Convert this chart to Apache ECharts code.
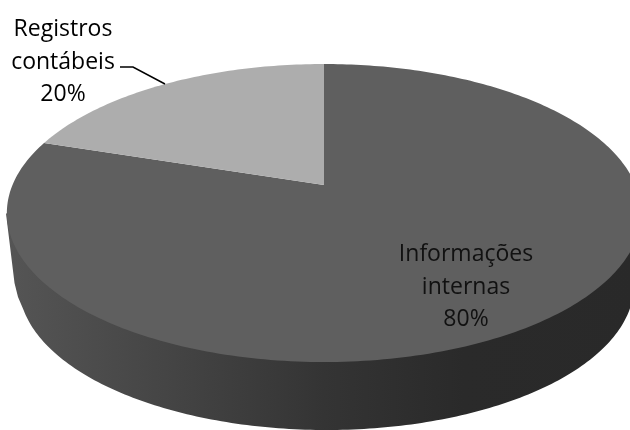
<!DOCTYPE html>
<html>
<head>
<meta charset="utf-8">
<style>html,body{margin:0;padding:0;background:#fff}#c{width:630px;height:430px}</style>
<script src="https://cdn.jsdelivr.net/npm/echarts@6/dist/echarts.min.js"></script>
</head>
<body>
<div id="c"></div>
<script>
const categories = ['Informações\ninternas', 'Registros\ncontábeis'];
const shares = [80, 20];
const sliceColors = ['#5f5f5f', '#adadad'];
const labelCenters = [[466, 287], [63, 62]];

const view = {apexX: 324, apexY: 185, k: 311.5, c: 0.188, a: -108.97};
const rimTop = {x: 324, y: 213.5, rx: 318, ry: 149};
const rimBottom = {x: 326.5, y: 285, rx: 307.5, ry: 145, leftJoins: [[14.5, 283], [18, 297]]};
const total = shares.reduce((s, v) => s + v, 0);

function project(theta) {
  const u = Math.sin(theta), v = Math.cos(theta), w = 1 + view.c * v;
  return [view.apexX + view.k * u / w, (view.a * v + view.apexY) / w];
}

function renderSlice(params, api) {
  const i = params.dataIndex;
  let before = 0;
  for (let j = 0; j < i; j++) before += shares[j];
  const start = before / total * 2 * Math.PI;
  const end = (before + api.value(0)) / total * 2 * Math.PI;
  const pts = [[view.apexX, view.apexY]];
  const n = Math.ceil((end - start) * 180 / Math.PI);
  for (let s = 0; s <= n; s++) pts.push(project(start + (end - start) * s / n));
  const children = [];
  if (i === 0) {
    const side = rimBottom.leftJoins.slice();
    for (let d = 170; d >= 0; d--) {
      const p = d * Math.PI / 180;
      side.push([rimBottom.x + rimBottom.rx * Math.cos(p), rimBottom.y + rimBottom.ry * Math.sin(p)]);
    }
    side.push([rimTop.x + rimTop.rx, rimTop.y], [rimTop.x - rimTop.rx, rimTop.y]);
    children.push({
      type: 'polygon', shape: {points: side},
      style: {fill: new echarts.graphic.LinearGradient(0, 0, 1, 0, [
        {offset: 0, color: '#555555'},
        {offset: 0.25, color: '#454545'},
        {offset: 0.5, color: '#343434'},
        {offset: 0.72, color: '#2a2a2a'},
        {offset: 1, color: '#292929'}
      ])}
    });
  }
  children.push({type: 'polygon', shape: {points: pts}, style: {fill: sliceColors[i]}});
  return {type: 'group', children};
}

function renderLabel(params, api) {
  const i = params.dataIndex;
  const children = [{
    type: 'text', x: labelCenters[i][0], y: labelCenters[i][1],
    style: {
      text: categories[i] + '\n' + api.value(0) + '%',
      font: '23px "Open Sans"', lineHeight: 32.5, align: 'center', verticalAlign: 'middle',
      fill: i === 0 ? '#111111' : '#000000'
    }
  }];
  if (i === 1) {
    children.push({
      type: 'polyline', shape: {points: [[120, 67], [133, 67], [165, 84]]},
      style: {stroke: '#000', lineWidth: 1.5, fill: null}
    });
  }
  return {type: 'group', children};
}

const chart = echarts.init(document.getElementById('c'), null, {renderer: 'canvas'});
chart.setOption({
  animation: false,
  backgroundColor: '#ffffff',
  tooltip: {show: false},
  series: [
    {type: 'custom', coordinateSystem: 'none', silent: true, renderItem: renderSlice, data: shares, z: 1},
    {type: 'custom', coordinateSystem: 'none', silent: true, renderItem: renderLabel, data: shares, z: 2}
  ]
});
</script>
</body>
</html>
